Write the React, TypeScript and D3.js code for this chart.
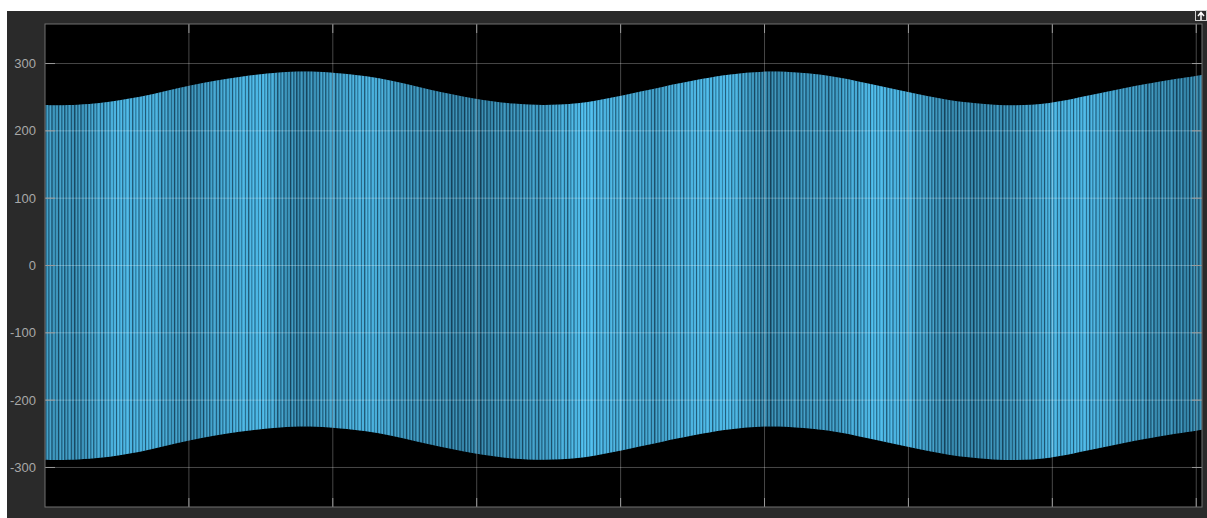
import React from "react";
import * as d3 from "d3";

// Envelope sample times (grid units) and values
const envTime = [0, 0.1, 0.38, 0.66, 1.01, 1.35, 1.63, 1.8, 1.98, 2.32, 2.67, 2.98, 3.25, 3.47, 3.7, 3.95, 4.2, 4.4, 4.75, 5.05, 5.44, 5.72, 5.98, 6.28, 6.55, 6.73, 6.98, 7.32, 7.66, 8.04];
const upperEnv = [238.5, 238, 241.5, 250.5, 267.5, 280, 286.5, 288, 286.5, 278, 261.5, 248, 240.5, 238.5, 241, 250, 261, 270.5, 283.5, 288, 282, 270.5, 258.5, 246, 239.5, 238, 241.5, 255.5, 270, 283];
const lowerEnv = [-288.5, -289, -285.5, -276.5, -259.5, -247, -240.5, -239, -240.5, -249, -265.5, -279, -286.5, -288.5, -286, -277, -266, -256.5, -243.5, -239, -245, -256.5, -268.5, -281, -287.5, -289, -285.5, -271.5, -257, -244];

// Apparent brightness of the dense trace, sampled every 0.25 grid units
const bandTime = d3.range(0, 8.01, 0.25);
const bandLevel = [0.5, 0.45, 0.85, 0.8, 0.35, 0.7, 0.9, 0.3, 0.6, 0.85, 0.45, 0.35, 0.25, 0.4, 0.6, 0.95, 0.75, 0.6, 0.85, 0.9, 0.3, 0.45, 0.55, 0.9, 0.8, 0.35, 0.3, 0.45, 0.8, 0.85, 0.55, 0.35, 0.3];

const yTicks = [300, 200, 100, 0, -100, -200, -300];
const xTicks = [1, 2, 3, 4, 5, 6, 7, 8];

// Stripe texture (style only): offset, width, kind (0 dark, 1 light)
const stripeStyle: [number, number, number][] = [
  [0, 1, 0], [2, 1, 1], [3.5, 0.6, 0], [5, 1, 1], [6.2, 1, 0], [8, 0.7, 1], [9.5, 0.6, 0],
  [11, 1.2, 1], [13, 0.8, 0], [14.5, 1, 1], [16, 1.3, 0], [18, 0.8, 1], [19.5, 0.7, 0],
  [21, 1, 1], [22.5, 1, 0], [24.5, 0.8, 1], [26, 0.6, 0], [27.5, 1, 1],
];

const W = 1207;
const H = 518;
const L = 45, R = 1202, T = 24, B = 507;

export default function App() {
  const x = d3.scaleLinear().domain([0, 8.04]).range([L, R]);
  const y = d3.scaleLinear().domain([-358.7, 358.7]).range([B, T]);

  const pts = envTime.map((t, i) => ({ t, hi: upperEnv[i], lo: lowerEnv[i] }));
  const area = d3
    .area<{ t: number; hi: number; lo: number }>()
    .x((d) => x(d.t))
    .y0((d) => y(d.lo))
    .y1((d) => y(d.hi))
    .curve(d3.curveCatmullRom.alpha(0.5))(pts) as string;

  const col = d3.interpolateRgb("#1b5672", "#4dbeee");

  return (
    <svg width={W} height={H} style={{ position: "absolute", left: 0, top: 0 }}>
      <defs>
        <linearGradient id="band" gradientUnits="userSpaceOnUse" x1={L} x2={R} y1={0} y2={0}>
          {bandTime.map((t, i) => (
            <stop key={i} offset={(x(t) - L) / (R - L)} stopColor={col(bandLevel[i])} />
          ))}
        </linearGradient>
        <pattern id="stripes" patternUnits="userSpaceOnUse" width={29} height={10}>
          {stripeStyle.map(([o, w, k], i) => (
            <rect
              key={i}
              x={o}
              y={0}
              width={w}
              height={10}
              fill={k === 0 ? "rgba(0,12,25,0.5)" : "rgba(110,212,255,0.35)"}
            />
          ))}
        </pattern>
        <clipPath id="plot">
          <rect x={L} y={T} width={R - L} height={B - T} />
        </clipPath>
      </defs>

      <rect x={0} y={0} width={W} height={H} fill="#ffffff" />
      <rect x={7} y={11} width={W - 7} height={H - 11} fill="#2a2a2a" />
      <rect x={L} y={T} width={R - L} height={B - T} fill="#000000" />

      <g clipPath="url(#plot)">
        <path d={area} fill="url(#band)" />
        <path d={area} fill="url(#stripes)" />
        {yTicks.map((v) => (
          <line key={"gy" + v} x1={L} x2={R} y1={y(v)} y2={y(v)} stroke="rgba(255,255,255,0.28)" strokeWidth={1} />
        ))}
        {xTicks.map((v) => (
          <line key={"gx" + v} x1={x(v)} x2={x(v)} y1={T} y2={B} stroke="rgba(255,255,255,0.28)" strokeWidth={1} />
        ))}
        {yTicks.map((v) => (
          <g key={"ty" + v}>
            <line x1={L} x2={L + 10} y1={y(v)} y2={y(v)} stroke="#9a9a9a" strokeWidth={1} />
            <line x1={R - 10} x2={R} y1={y(v)} y2={y(v)} stroke="#9a9a9a" strokeWidth={1} />
          </g>
        ))}
        {xTicks.map((v) => (
          <g key={"tx" + v}>
            <line x1={x(v)} x2={x(v)} y1={T} y2={T + 9} stroke="#9a9a9a" strokeWidth={1} />
            <line x1={x(v)} x2={x(v)} y1={B - 9} y2={B} stroke="#9a9a9a" strokeWidth={1} />
          </g>
        ))}
      </g>
      <rect x={L} y={T} width={R - L} height={B - T} fill="none" stroke="#707070" strokeWidth={1} />

      {yTicks.map((v) => (
        <text
          key={"lab" + v}
          x={36}
          y={y(v)}
          dy="0.35em"
          textAnchor="end"
          fontFamily="'Liberation Sans', Arial, sans-serif"
          fontSize={13}
          fill="#a8a8a8"
        >
          {v}
        </text>
      ))}

      <g>
        <rect x={1195.5} y={10.5} width={11} height={10} fill="#2a2a2a" stroke="#d0d0d0" strokeWidth={1} />
        <path d="M1198 16 L1201 12.5 L1204 16 M1201 12.5 L1201 20" stroke="#ffffff" strokeWidth={1.5} fill="none" />
      </g>
    </svg>
  );
}
